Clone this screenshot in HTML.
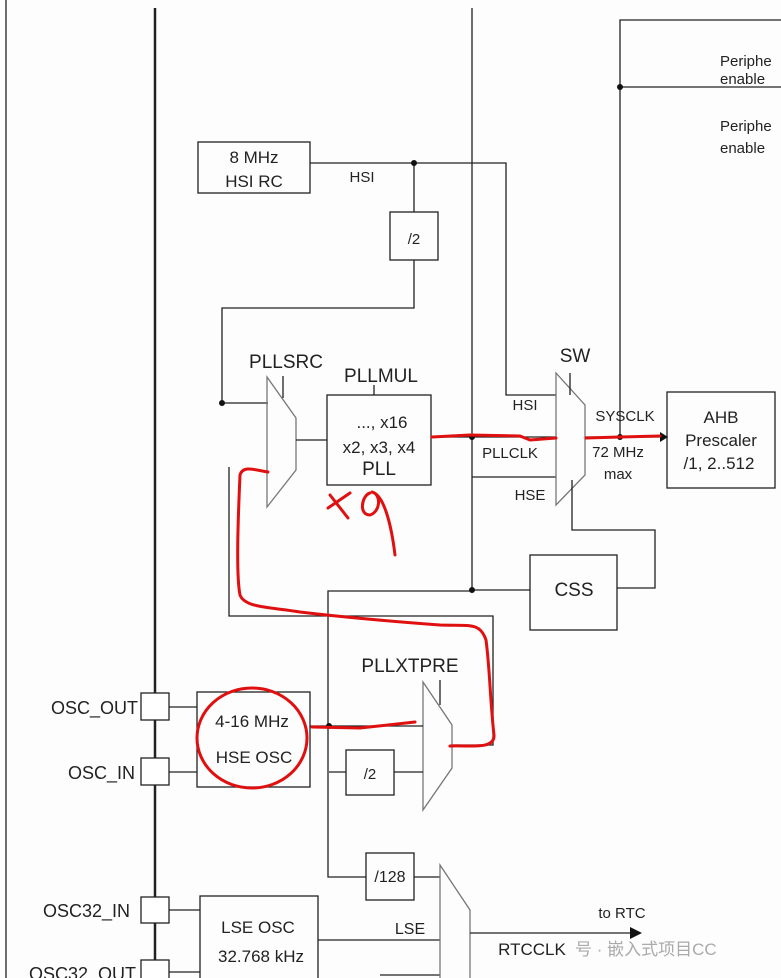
<!DOCTYPE html>
<html><head><meta charset="utf-8"><style>
html,body{margin:0;padding:0;background:#fff;}
svg{display:block;font-family:"Liberation Sans",Arial,sans-serif;}
text{fill:#222;}
</style></head><body>
<svg width="781" height="978" viewBox="0 0 781 978" xmlns="http://www.w3.org/2000/svg">
<rect width="781" height="978" fill="#fdfdfd"/>
<g stroke="#222" stroke-width="1.3" fill="none">
<line x1="6" y1="0" x2="6" y2="978"/>
<line x1="155" y1="8" x2="155" y2="978" stroke-width="2.5"/>
<rect x="198" y="142" width="112" height="51"/>
<polyline points="310,163 506,163 506,395 556,395"/>
<line x1="414" y1="163" x2="414" y2="212"/>
<rect x="390" y="212" width="48" height="48"/>
<polyline points="414,260 414,308 222,308 222,403 268,403"/>
<line x1="472" y1="8" x2="472" y2="590"/>
<polygon points="267,377 296,418 296,470 267,507" stroke="#777"/>
<line x1="283" y1="376" x2="283" y2="398"/>
<line x1="296" y1="440" x2="327" y2="440"/>
<rect x="327" y="395" width="104" height="90"/>
<line x1="374" y1="385" x2="374" y2="395"/>
<line x1="431" y1="437" x2="556" y2="437"/>
<line x1="472" y1="477" x2="556" y2="477"/>
<polygon points="556,373 585,405 585,475 556,505" stroke="#777"/>
<line x1="570" y1="373" x2="570" y2="395"/>
<polyline points="572,480 572,530 655,530 655,588 617,588"/>
<rect x="530" y="555" width="87" height="75"/>
<line x1="472" y1="590" x2="530" y2="590"/>
<line x1="585" y1="437" x2="660" y2="437"/>
<polyline points="620,437 620,20 781,20"/>
<line x1="620" y1="87" x2="781" y2="87"/>
<rect x="667" y="392" width="108" height="96"/>
<polyline points="229,467 229,616 493,616 493,745 452,745"/>
<polyline points="472,591 328,591 328,877 366,877"/>
<polygon points="423,682 452,725 452,768 423,810" stroke="#777"/>
<line x1="440" y1="680" x2="440" y2="705"/>
<rect x="197" y="692" width="113" height="95"/>
<line x1="310" y1="726" x2="423" y2="726"/>
<rect x="346" y="750" width="48" height="45"/>
<line x1="329" y1="772" x2="346" y2="772"/>
<line x1="394" y1="772" x2="423" y2="772"/>
<rect x="141" y="693" width="28" height="27" fill="#fff"/>
<rect x="141" y="758" width="28" height="27" fill="#fff"/>
<rect x="141" y="897" width="28" height="26" fill="#fff"/>
<rect x="141" y="960" width="28" height="26" fill="#fff"/>
<line x1="169" y1="707" x2="197" y2="707"/>
<line x1="169" y1="772" x2="197" y2="772"/>
<line x1="169" y1="910" x2="200" y2="910"/>
<line x1="169" y1="972" x2="200" y2="972"/>
<rect x="366" y="853" width="48" height="47"/>
<line x1="414" y1="877" x2="440" y2="877"/>
<rect x="200" y="896" width="118" height="90"/>
<line x1="318" y1="940" x2="440" y2="940"/>
<line x1="380" y1="975" x2="440" y2="975"/>
<polygon points="440,865 470,910 470,990 440,990" stroke="#777"/>
<line x1="470" y1="933" x2="632" y2="933"/>
</g>
<g fill="#111">
<circle cx="414" cy="163" r="3"/><circle cx="222" cy="403" r="3"/>
<circle cx="472" cy="437" r="3"/><circle cx="472" cy="590" r="3"/>
<circle cx="620" cy="87" r="3"/><circle cx="620" cy="437" r="3"/>
<circle cx="329" cy="726" r="3"/>
<polygon points="630,927 630,939 642,933"/>
<polygon points="660,432 660,442 668,437"/>
</g>
<g font-size="17" text-anchor="middle">
<text x="254" y="163">8 MHz</text><text x="254" y="187">HSI RC</text>
<text x="362" y="182" font-size="15">HSI</text>
<text x="414" y="244" font-size="15">/2</text>
<text x="286" y="368" font-size="19">PLLSRC</text>
<text x="381" y="382" font-size="19">PLLMUL</text>
<text x="382" y="428">..., x16</text>
<text x="379" y="453">x2, x3, x4</text>
<text x="379" y="475" font-size="19">PLL</text>
<text x="575" y="362" font-size="19">SW</text>
<text x="525" y="410" font-size="15">HSI</text>
<text x="510" y="458" font-size="15">PLLCLK</text>
<text x="530" y="500" font-size="15">HSE</text>
<text x="625" y="421" font-size="15">SYSCLK</text>
<text x="618" y="457" font-size="15">72 MHz</text>
<text x="618" y="479" font-size="15">max</text>
<text x="721" y="423">AHB</text><text x="721" y="446">Prescaler</text><text x="719" y="469">/1, 2..512</text>
<text x="574" y="596" font-size="19">CSS</text>
<text x="410" y="672" font-size="19">PLLXTPRE</text>
<text x="252" y="727">4-16 MHz</text>
<text x="254" y="763">HSE OSC</text>
<text x="370" y="779" font-size="15">/2</text>
<text x="390" y="882" font-size="16">/128</text>
<text x="258" y="933">LSE OSC</text>
<text x="261" y="962">32.768 kHz</text>
<text x="410" y="934" font-size="16">LSE</text>
<text x="622" y="918" font-size="15">to RTC</text>
<text x="532" y="955" font-size="17">RTCCLK</text>
</g>
<g font-size="18" text-anchor="end">
<text x="138" y="714">OSC_OUT</text>
<text x="135" y="779">OSC_IN</text>
<text x="130" y="917">OSC32_IN</text>
<text x="136" y="980">OSC32_OUT</text>
</g>
<g font-size="15">
<text x="720" y="66">Periphe</text><text x="720" y="84">enable</text>
<text x="720" y="131">Periphe</text><text x="720" y="153">enable</text>
</g>
<text x="575" y="955" font-size="17" font-family="'Liberation Sans','Noto Sans CJK SC',sans-serif" style="fill:#aaa">号 · 嵌入式项目CC</text>
<g stroke="#e01010" stroke-width="3" fill="none" stroke-linecap="round" stroke-linejoin="round">
<polyline points="432,437 470,435 520,436 530,440 556,438"/>
<polyline points="586,438 620,437 660,436"/>
<path d="M268,472 C255,470 243,465 240,475 C238,520 236,575 240,595 C245,608 270,607 300,612 C350,618 400,622 440,625 C470,626 480,622 486,640 C490,670 490,700 494,735 C495,750 470,745 450,746"/>
<ellipse cx="252" cy="738" rx="55" ry="50"/>
<polyline points="312,727 360,728 415,722"/>
<path d="M328,508 L350,493 M330,495 L348,518 M370,493 C362,495 358,515 370,515 C380,512 382,495 372,492 C385,495 392,530 395,555"/>
</g>
</svg>
</body></html>
